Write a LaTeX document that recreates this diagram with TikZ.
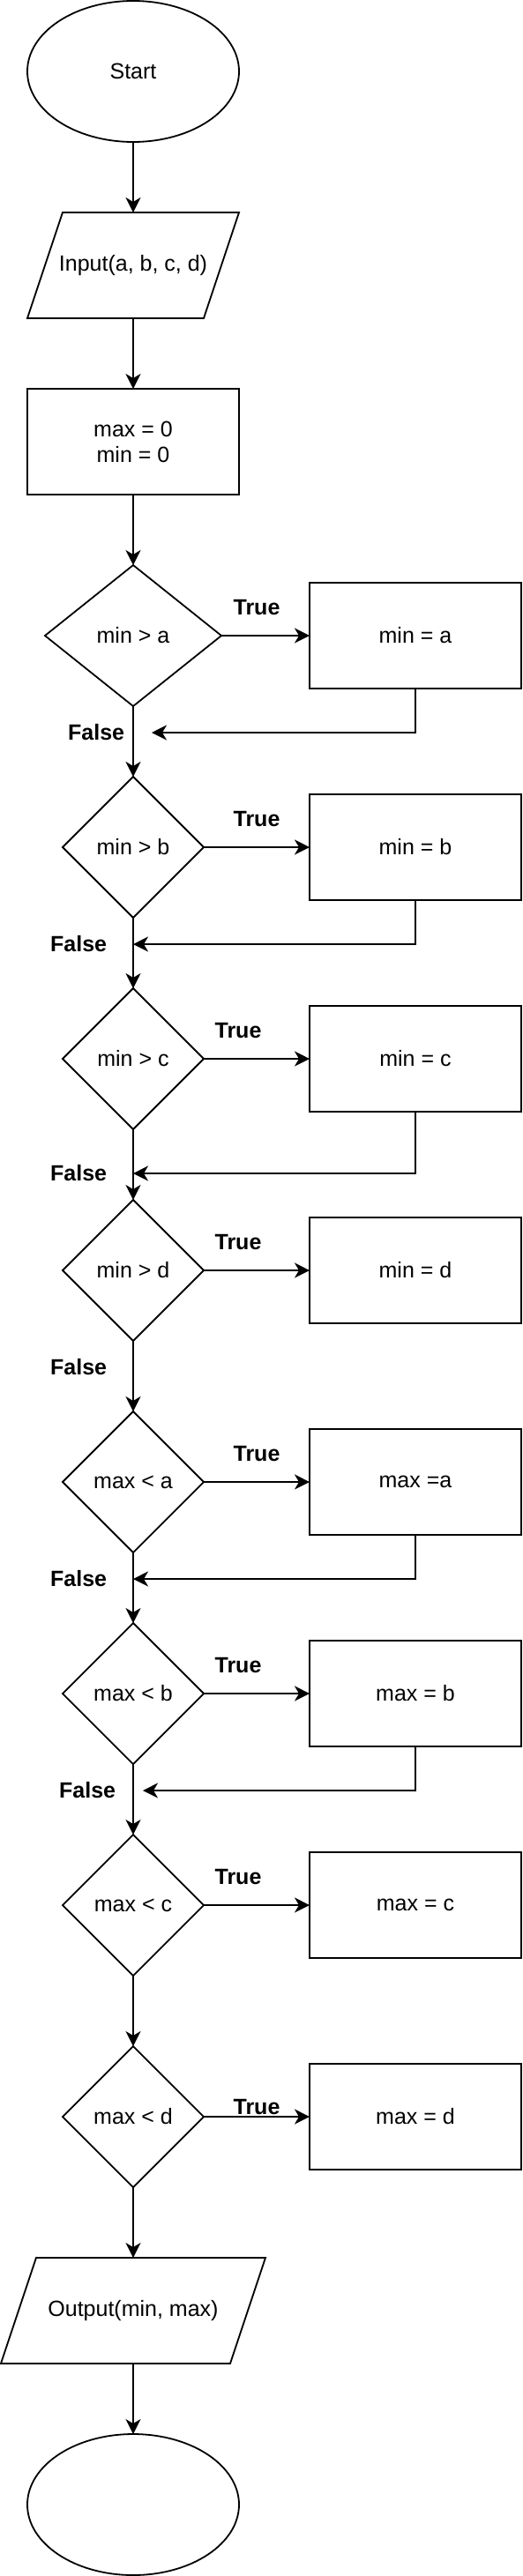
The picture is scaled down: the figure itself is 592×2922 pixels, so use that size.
\documentclass[tikz,border=0pt]{standalone}
\usepackage{fontspec}
\setmainfont{Liberation Sans}
\usetikzlibrary{
  arrows.meta,
  positioning,
  shapes.geometric,
  calc
}
\tikzset{
  base/.style={draw=black, line width=1.8pt, inner sep=0pt, outer sep=0pt, align=center, font=\fontsize{25}{29}\selectfont},
  terminal/.style={base, ellipse, minimum width=240pt, minimum height=160pt},
  iobox/.style={base, draw=none, rectangle, minimum height=120pt},
  procbox/.style={base, rectangle, minimum width=240pt, minimum height=120pt},
  decision/.style={base, diamond, minimum width=160pt, minimum height=160pt},
  flow/.style={-{Stealth[length=17pt, width=17pt, inset=5pt]}, line width=1.8pt},
  flag/.style={inner sep=0pt, font=\fontsize{25}{29}\selectfont\bfseries}
}

\begin{document}
\begin{tikzpicture}[x=1pt, y=1pt, node distance=80pt]
  \useasboundingbox (0,0) rectangle (592,-2922);

  \node[terminal] (start) at (151,-81) {Start};
  \node[iobox, minimum width=240pt, below=of start] (input) {Input(a, b, c, d)};
  \node[procbox, below=of input] (init) {max = 0\\min = 0};
  \node[decision, minimum width=200pt, below=of init] (mina?) {min > a};
  \node[decision, below=of mina?] (minb?) {min > b};
  \node[decision, below=of minb?] (minc?) {min > c};
  \node[decision, below=of minc?] (mind?) {min > d};
  \node[decision, below=of mind?] (maxa?) {max < a};
  \node[decision, below=of maxa?] (maxb?) {max < b};
  \node[decision, below=of maxb?] (maxc?) {max < c};
  \node[decision, below=of maxc?] (maxd?) {max < d};
  \node[iobox, minimum width=300pt, below=of maxd?] (output) {Output(min, max)};
  \node[terminal, below=of output] (stop) {};

  \foreach \io in {input, output}
    \draw[line width=1.8pt] ([xshift=40pt]\io.north west) -- (\io.north east) -- ([xshift=-40pt]\io.south east) -- (\io.south west) -- cycle;

  \node[procbox, right=100pt of mina?] (mina) {min = a};
  \node[procbox, right=120pt of minb?] (minb) {min = b};
  \node[procbox, right=120pt of minc?] (minc) {min = c};
  \node[procbox, right=120pt of mind?] (mind) {min = d};
  \node[procbox, right=120pt of maxa?] (maxa) {max =a};
  \node[procbox, right=120pt of maxb?] (maxb) {max = b};
  \node[procbox, right=120pt of maxc?] (maxc) {max = c};
  \node[procbox, right=120pt of maxd?] (maxd) {max = d};

  \coordinate (backa) at ($(mina?.south)+(21,-30)$);
  \coordinate (backb) at ($(minb?.south)+(0,-30)$);
  \coordinate (backc) at ($(minc?.south)+(0,-50)$);
  \coordinate (backma) at ($(maxa?.south)+(0,-30)$);
  \coordinate (backmb) at ($(maxb?.south)+(11,-30)$);

  \draw[flow] (start) -- (input);
  \draw[flow] (input) -- (init);
  \draw[flow] (init) -- (mina?);
  \draw[flow] (mina?) -- node[flag, left=9pt, pos=0.375] {False} (minb?);
  \draw[flow] (minb?) -- node[flag, left=29pt, pos=0.375] {False} (minc?);
  \draw[flow] (minc?) -- node[flag, left=29pt, pos=0.625] {False} (mind?);
  \draw[flow] (mind?) -- node[flag, left=29pt, pos=0.375] {False} (maxa?);
  \draw[flow] (maxa?) -- node[flag, left=29pt, pos=0.37] {False} (maxb?);
  \draw[flow] (maxb?) -- node[flag, left=19pt, pos=0.375] {False} (maxc?);
  \draw[flow] (maxc?) -- (maxd?);
  \draw[flow] (maxd?) -- (output);
  \draw[flow] (output) -- (stop);

  \draw[flow] (mina?) -- node[flag, above=22pt, xshift=-10pt] {True} (mina);
  \draw[flow] (minb?) -- node[flag, above=22pt] {True} (minb);
  \draw[flow] (minc?) -- node[flag, above=22pt, xshift=-21pt] {True} (minc);
  \draw[flow] (mind?) -- node[flag, above=22pt, xshift=-21pt] {True} (mind);
  \draw[flow] (maxa?) -- node[flag, above=22pt] {True} (maxa);
  \draw[flow] (maxb?) -- node[flag, above=22pt, xshift=-21pt] {True} (maxb);
  \draw[flow] (maxc?) -- node[flag, above=22pt, xshift=-21pt] {True} (maxc);
  \draw[flow] (maxd?) -- node[flag, above=1pt] {True} (maxd);

  \draw[flow] (mina.south) |- (backa);
  \draw[flow] (minb.south) |- (backb);
  \draw[flow] (minc.south) |- (backc);
  \draw[flow] (maxa.south) |- (backma);
  \draw[flow] (maxb.south) |- (backmb);
\end{tikzpicture}
\end{document}
